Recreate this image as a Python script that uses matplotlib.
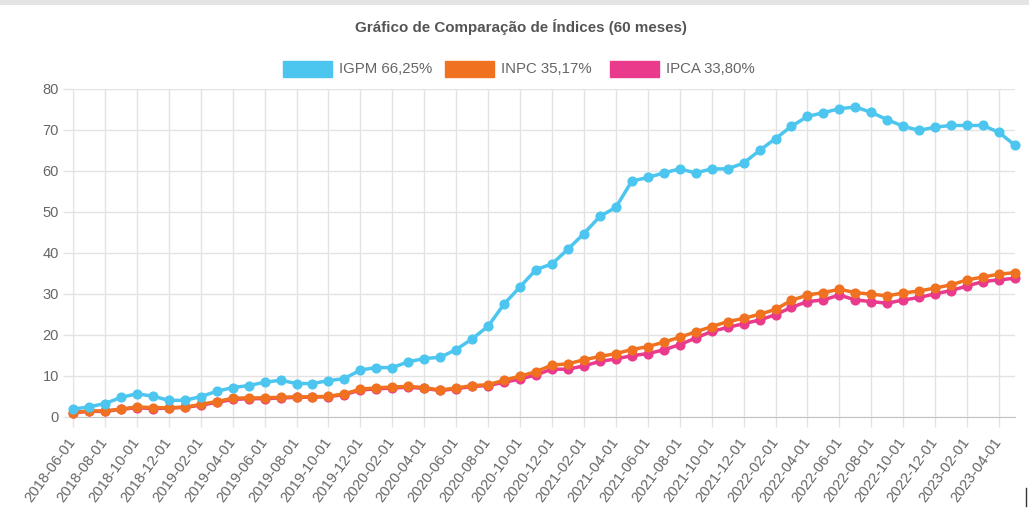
import matplotlib
matplotlib.use("Agg")
import matplotlib.pyplot as plt
from matplotlib.patches import Rectangle
from matplotlib.lines import Line2D
import pandas as pd

plt.rcParams['font.family'] = ['Liberation Sans', 'DejaVu Sans']

months = pd.date_range("2018-06-01", periods=60, freq="MS").strftime("%Y-%m-%d").tolist()

igpm = [1.85, 2.4, 3.2, 4.7, 5.6, 5.0, 4.0, 4.0, 4.9, 6.2,
        7.1, 7.6, 8.4, 8.9, 8.1, 8.1, 8.8, 9.3, 11.4, 12.0,
        12.0, 13.4, 14.2, 14.5, 16.4, 19.0, 22.1, 27.5, 31.7, 35.9,
        37.3, 40.9, 44.7, 48.9, 51.1, 57.5, 58.4, 59.5, 60.5, 59.5,
        60.5, 60.5, 61.9, 65.0, 67.9, 70.9, 73.3, 74.2, 75.2, 75.6,
        74.3, 72.5, 70.9, 69.9, 70.7, 71.1, 71.1, 71.1, 69.4, 66.25]
inpc = [1.0, 1.4, 1.4, 1.85, 2.4, 2.2, 2.2, 2.3, 3.0, 3.7,
        4.5, 4.6, 4.6, 4.75, 4.85, 4.85, 4.95, 5.6, 6.7, 7.05,
        7.25, 7.4, 7.1, 6.5, 7.0, 7.6, 7.8, 8.9, 9.9, 11.0,
        12.6, 12.9, 13.9, 14.7, 15.4, 16.4, 17.1, 18.2, 19.4, 20.7,
        22.0, 23.2, 24.0, 25.0, 26.2, 28.4, 29.7, 30.3, 31.1, 30.3,
        29.9, 29.5, 30.2, 30.7, 31.4, 32.2, 33.4, 34.1, 34.8, 35.17]
ipca = [1.0, 1.3, 1.3, 1.8, 2.2, 2.0, 2.1, 2.3, 2.8, 3.5,
        4.2, 4.4, 4.4, 4.6, 4.7, 4.8, 4.9, 5.4, 6.5, 6.8,
        7.0, 7.2, 6.9, 6.4, 6.8, 7.4, 7.6, 8.4, 9.2, 10.2,
        11.6, 11.6, 12.4, 13.5, 14.1, 14.9, 15.4, 16.3, 17.6, 19.2,
        20.8, 21.8, 22.7, 23.6, 24.9, 26.7, 28.1, 28.5, 29.7, 28.5,
        28.1, 27.7, 28.5, 29.1, 30.0, 30.8, 31.9, 33.0, 33.4, 33.8]

series_names = ["IGPM 66,25%", "INPC 35,17%", "IPCA 33,80%"]
colors = ["#4cc6ef", "#f0711f", "#ea3a8c"]
title = "Gráfico de Comparação de Índices (60 meses)"
yticks = [0, 10, 20, 30, 40, 50, 60, 70, 80]

W, H = 1029, 508
fig = plt.figure(figsize=(W / 100, H / 100), dpi=100)
ax = fig.add_axes([73 / W, 1 - 416.7 / H, (1015 - 73) / W, (416.7 - 89) / H])

x = list(range(len(months)))
data = [igpm, inpc, ipca]
zs = [4, 3, 2]
for vals, c, z in zip(data, colors, zs):
    ax.plot(x, vals, color=c, lw=2.5, marker='o', ms=6.3, mec=c, mfc=c, zorder=z,
            solid_capstyle='round', clip_on=False)

ax.set_xlim(0, len(months) - 1)
ax.set_ylim(0, 80)
ax.set_yticks(yticks)
ax.set_yticklabels([str(v) for v in yticks])
ax.set_xticks(x[::2])
ax.set_xticklabels(months[::2], rotation=54, ha='right', va='center',
                   rotation_mode='anchor', fontsize=10.6)

gridc = "#e3e3e3"
ax.grid(True, color=gridc, lw=1)
ax.set_axisbelow(True)
ax.tick_params(axis='both', colors=gridc, length=7, width=1, labelcolor="#666666")
ax.tick_params(axis='y', pad=3, labelsize=10.5)
ax.tick_params(axis='x', pad=9)
for s in ['top', 'right']:
    ax.spines[s].set_visible(False)
ax.spines['left'].set_color(gridc)
ax.spines['bottom'].set_color("#c4c4c4")

fig.text(521 / W, 1 - 27 / H, title, ha='center', va='center', fontsize=10.9,
         fontweight='bold', color="#555555")

# legend
box_x = [283, 445, 610]
for bx, name, c in zip(box_x, series_names, colors):
    fig.patches.append(Rectangle((bx / W, 1 - 77 / H), 49 / W, 16 / H, transform=fig.transFigure,
                                 facecolor=c, edgecolor=c, lw=1))
    fig.text((bx + 56) / W, 1 - 69 / H, name, ha='left', va='center', fontsize=10.8, color="#666666")

# top border band
fig.patches.append(Rectangle((0, 1 - 5 / H), 1, 5 / H, transform=fig.transFigure,
                             facecolor="#e4e4e4", edgecolor='none'))
# cursor mark at bottom right
fig.lines.append(Line2D([1026 / W, 1026 / W], [1 - 506 / H, 1 - 488 / H], transform=fig.transFigure,
                        color="#333333", lw=1))

fig.savefig("out.png", dpi=100)
